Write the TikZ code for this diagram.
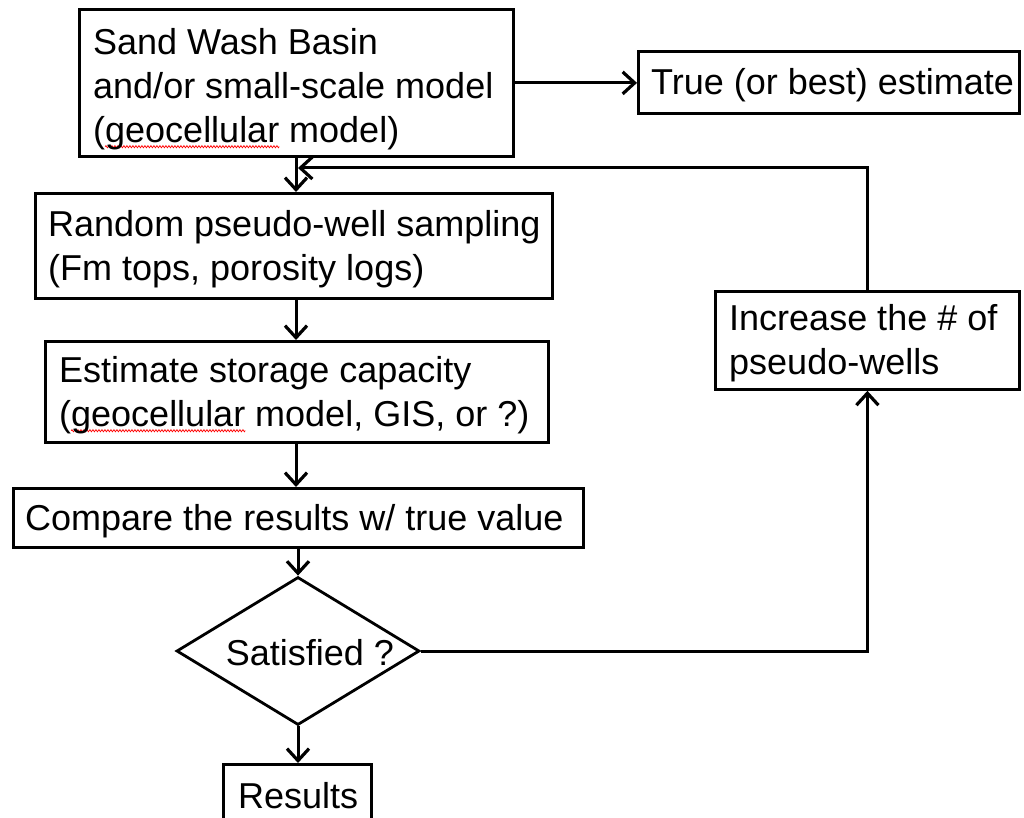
\documentclass[tikz,border=0pt]{standalone}
\usepackage{fontspec}
\setmainfont{Liberation Sans}
\usetikzlibrary{arrows.meta,shapes.geometric,decorations.pathmorphing}
\newlength\spellw
\newcommand\spellerr[1]{\settowidth\spellw{#1}\rlap{\tikz[overlay,baseline=0pt]\draw[red,line width=0.7pt,decorate,decoration={zigzag,segment length=3pt,amplitude=1.1pt}] (0pt,-4.5pt) -- (\spellw,-4.5pt);}#1}
\tikzset{
  frame/.style={draw, line width=2.8pt, inner sep=0pt, anchor=north west},
  txt/.style={align=left, inner sep=0pt, anchor=west, font=\fontsize{36}{44}\selectfont},
  decision/.style={draw, diamond, aspect=1.65, line width=2.8pt, inner sep=0pt,
    minimum width=243pt, minimum height=148pt},
  arr/.style={line width=3pt, -{Straight Barb[length=12pt,width=22pt,line width=3.2pt]}},
}
\begin{document}
\begin{tikzpicture}[x=1pt,y=-1pt]
\useasboundingbox[fill=white] (0,0) rectangle (1024,818);
\coordinate (col) at (296,0);
% boxes
\node[frame, minimum width=434pt, minimum height=147pt] (sand) at (78,8) {};
\node[txt] (sand-t) at ([xshift=15pt,yshift=-6pt]sand.west)
  {Sand Wash Basin\\and/or small-scale model\\(\spellerr{geocellular} model)};
\node[frame, minimum width=381pt, minimum height=62pt] (true) at (637,50) {};
\node[txt] (true-t) at ([xshift=14pt,yshift=-3pt]true.west) {True (or best) estimate};
\node[frame, minimum width=517pt, minimum height=105pt] (random) at (34,192) {};
\node[txt] (random-t) at ([xshift=14pt,yshift=-3pt]random.west)
  {Random pseudo-well sampling\\(Fm tops, porosity logs)};
\node[frame, minimum width=503pt, minimum height=101pt] (estimate) at (44,340) {};
\node[txt] (estimate-t) at ([xshift=15pt,yshift=-3pt]estimate.west)
  {Estimate storage capacity\\(\spellerr{geocellular} model, GIS, or ?)};
\node[frame, minimum width=570pt, minimum height=59pt] (compare) at (12,487) {};
\node[txt] (compare-t) at ([xshift=13pt,yshift=-3pt]compare.west)
  {Compare the results w/ true value};
\node[decision] (sat) at (298,651) {};
\node[txt, anchor=center] (sat-t) at ([xshift=12pt,yshift=-2pt]sat.center) {Satisfied ?};
\node[frame, minimum width=148pt, minimum height=58pt] (results) at (222,763) {};
\node[txt] (results-t) at ([xshift=16pt,yshift=-2pt]results.west) {Results};
\node[frame, minimum width=304pt, minimum height=98pt] (increase) at (714,290) {};
\node[txt] (increase-t) at ([xshift=15pt,yshift=-3pt]increase.west)
  {Increase the \# of\\pseudo-wells};
\coordinate (fb) at (298,168);
% connectors
\draw[arr] (sand.east) -- (sand.east -| true.west);
\draw[arr] (col |- sand.south) -- (col |- random.north);
\draw[arr] (col |- random.south) -- (col |- estimate.north);
\draw[arr] (col |- estimate.south) -- (col |- compare.north);
\draw[arr] (compare.south -| sat.north) -- (sat.north);
\draw[arr] (sat.south) -- (sat.south |- results.north);
\draw[arr] (sat.east) -| (increase.south);
\draw[arr] (increase.north) |- (fb);
\end{tikzpicture}
\end{document}
